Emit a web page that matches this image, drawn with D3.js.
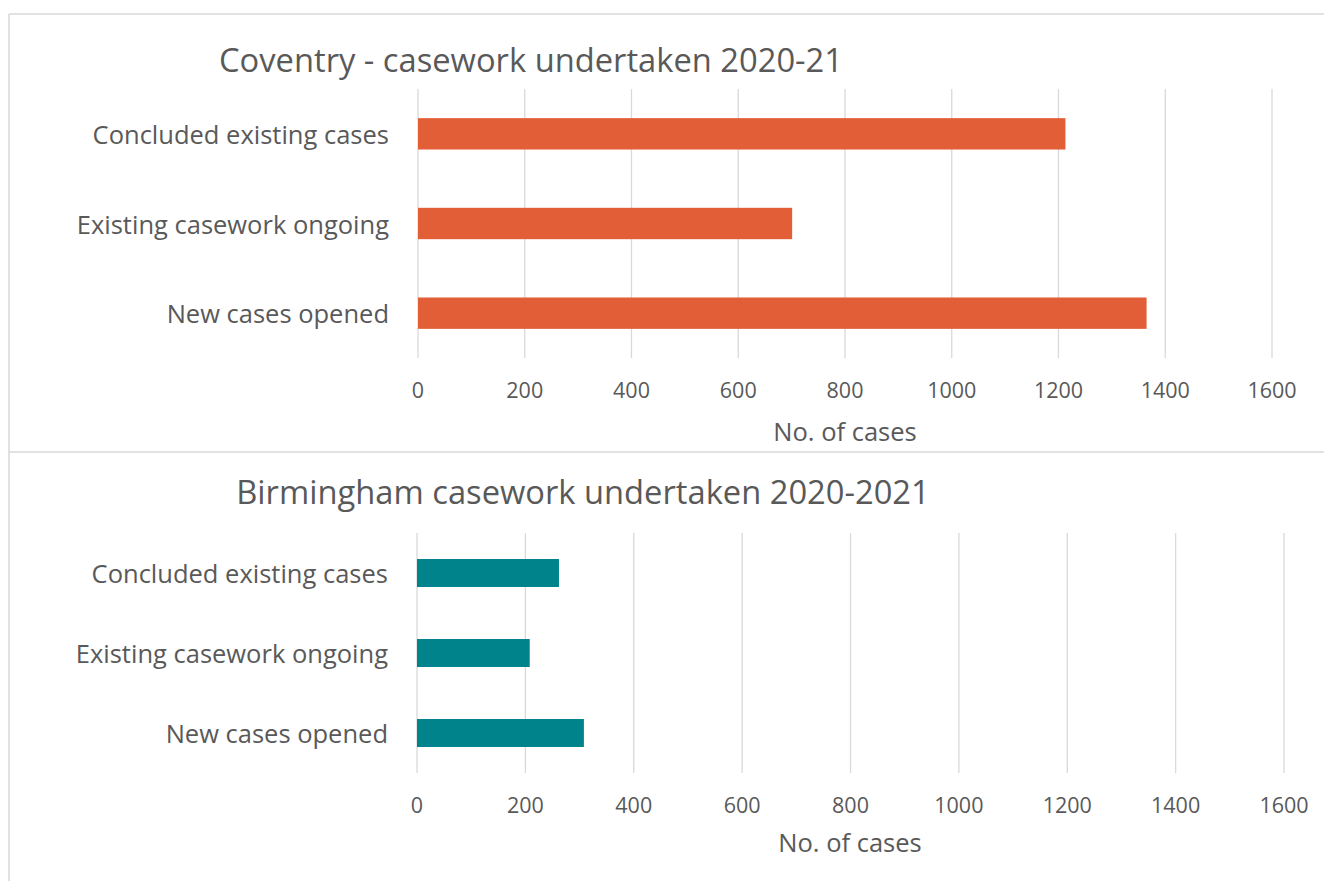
<!DOCTYPE html>
<html>
<head>
<meta charset="utf-8">
<script src="https://cdn.jsdelivr.net/npm/d3@7"></script>
<style>
  html, body { margin: 0; padding: 0; background: #ffffff; }
  svg { display: block; }
  text { font-family: "Open Sans", "Noto Sans", sans-serif; fill: #595959; }
</style>
</head>
<body>
<svg id="chart" width="1324" height="881"></svg>
<script>
// Casework categories (drawn top to bottom)
const categories = ["Concluded existing cases", "Existing casework ongoing", "New cases opened"];

// Number of cases per category
const coventryValues = [1213, 701, 1365];
const birminghamValues = [262, 208, 308];

// Value axis ticks
const tickValues = [0, 200, 400, 600, 800, 1000, 1200, 1400, 1600];

const panels = [
  {
    title: "Coventry - casework undertaken 2020-21",
    values: coventryValues,
    color: "#E25E36",
    x: [418, 1272], y: [89, 358],
    titleX: 531, titleY: 72,
    tickY: 398, axisTitleX: 845, axisTitleY: 441
  },
  {
    title: "Birmingham casework undertaken 2020-2021",
    values: birminghamValues,
    color: "#00838A",
    x: [417, 1284], y: [533, 773],
    titleX: 583, titleY: 504,
    tickY: 813, axisTitleX: 850, axisTitleY: 852
  }
];

const svg = d3.select("#chart");

// Chart frame: left and top edge, plus the divider between the two panels
const frame = svg.append("g").attr("stroke", "#d9d9d9").attr("stroke-width", 1.5).attr("fill", "none");
frame.append("line").attr("x1", 9).attr("x2", 1324).attr("y1", 14).attr("y2", 14);
frame.append("line").attr("x1", 9).attr("x2", 9).attr("y1", 14).attr("y2", 881);
frame.append("line").attr("x1", 9).attr("x2", 1324).attr("y1", 452).attr("y2", 452);

panels.forEach(p => {
  const g = svg.append("g");

  const x = d3.scaleLinear().domain([0, 1600]).range(p.x);
  const y = d3.scaleBand().domain(categories).range(p.y)
    .paddingInner(0.65).paddingOuter(0.325);

  // Vertical gridlines
  g.append("g").selectAll("line").data(tickValues).join("line")
    .attr("x1", d => x(d)).attr("x2", d => x(d))
    .attr("y1", p.y[0]).attr("y2", p.y[1])
    .attr("stroke", "#d9d9d9").attr("stroke-width", 1.3);

  // Bars
  g.append("g").selectAll("rect").data(categories).join("rect")
    .attr("x", x(0))
    .attr("y", d => y(d))
    .attr("width", (d, i) => x(p.values[i]) - x(0))
    .attr("height", y.bandwidth())
    .attr("fill", p.color);

  // Category labels
  g.append("g").selectAll("text").data(categories).join("text")
    .attr("x", x(0) - 29)
    .attr("y", d => y(d) + y.bandwidth() / 2 + 10)
    .attr("text-anchor", "end")
    .style("font-size", "25.5px")
    .text(d => d);

  // Tick labels
  g.append("g").selectAll("text").data(tickValues).join("text")
    .attr("x", d => x(d))
    .attr("y", p.tickY)
    .attr("text-anchor", "middle")
    .style("font-size", "21.5px")
    .text(d => d3.format("d")(d));

  // Axis title
  g.append("text")
    .attr("x", p.axisTitleX).attr("y", p.axisTitleY)
    .attr("text-anchor", "middle")
    .style("font-size", "25.5px")
    .text("No. of cases");

  // Chart title
  g.append("text")
    .attr("x", p.titleX).attr("y", p.titleY)
    .attr("text-anchor", "middle")
    .style("font-size", "32.7px")
    .text(p.title);
});
</script>
</body>
</html>
